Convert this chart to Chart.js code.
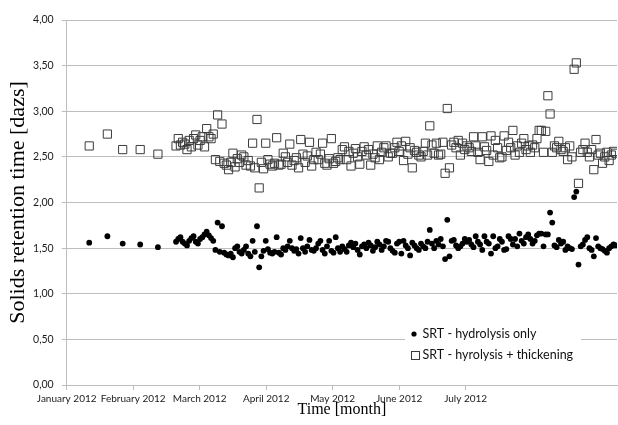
<!DOCTYPE html>
<html><head><meta charset="utf-8">
<script src="https://cdn.jsdelivr.net/npm/chart.js@4/dist/chart.umd.min.js"></script>
<style>html,body{margin:0;padding:0;background:#fff}canvas{display:block}</style>
</head><body>
<canvas id="c" width="618" height="425"></canvas>
<script>
const monthLabels = ['January 2012','February 2012','March 2012','April 2012','May 2012','June 2012','July 2012'];
const monthTickDays = [0, 30.4, 60.8, 91.2, 121.6, 152.0, 182.4];
const yTickValues = [0, 0.5, 1, 1.5, 2, 2.5, 3, 3.5, 4];
const yTickLabels = ['0,00','0,50','1,00','1,50','2,00','2,50','3,00','3,50','4,00'];
const seriesNames = ['SRT - hydrolysis only', 'SRT - hyrolysis + thickening'];

// weekly samples in January / early February (day since 1 Jan 2012)
const earlyDays = [10.3, 18.6, 25.6, 33.6, 41.7];
const earlyHydrolysis = [1.56, 1.63, 1.55, 1.54, 1.51];
const earlyThickening = [2.62, 2.75, 2.58, 2.58, 2.53];

// daily samples from day 50 to day 251
const dailyFirstDay = 50;
const dailyHydrolysis = [
 1.57,1.60,1.62,1.57,1.55,1.53,1.58,1.61,1.63,1.57,1.55,1.60,1.62,1.65,1.68,1.64,1.61,1.58,1.48,1.78,1.46,1.74,1.45,1.43,1.42,1.44,1.40,1.50,1.52,1.46,1.44,
 1.48,1.52,1.44,1.41,1.58,1.46,1.74,1.29,1.41,1.47,1.58,1.49,1.45,1.44,1.46,1.62,1.45,1.43,1.50,1.48,1.52,1.58,1.50,1.47,1.49,1.44,1.61,1.50,1.46,1.52,1.59,1.48,1.47,1.50,
 1.55,1.58,1.48,1.44,1.52,1.58,1.47,1.45,1.62,1.50,1.46,1.52,1.49,1.46,1.53,1.56,1.51,1.55,1.48,1.43,1.52,1.54,1.50,1.56,1.53,1.47,1.51,1.57,1.54,1.48,1.52,1.58,1.57,1.50,
 1.47,1.45,1.55,1.57,1.44,1.58,1.53,1.50,1.42,1.56,1.53,1.50,1.48,1.55,1.52,1.50,1.57,1.70,1.55,1.50,1.58,1.54,1.60,1.52,1.38,1.81,1.41,1.58,1.59,1.53,1.50,1.52,1.55,1.60,1.57,
 1.59,1.54,1.51,1.63,1.57,1.54,1.48,1.63,1.57,1.55,1.44,1.63,1.50,1.52,1.60,1.57,1.48,1.49,1.63,1.60,1.54,1.60,1.52,1.66,1.58,1.55,1.62,1.65,1.60,1.55,1.58,1.64,1.66,1.66,
 1.52,1.65,1.65,1.89,1.78,1.53,1.51,1.59,1.55,1.57,1.48,1.52,1.50,1.49,2.06,2.12,1.32,1.52,1.54,1.59,1.62,1.50,1.48,1.41,1.61,1.52,1.50,1.49,1.47,1.45,1.50,1.52,1.54,1.53
];
const dailyThickening = [
 2.62,2.70,2.63,2.66,2.64,2.58,2.68,2.61,2.70,2.74,2.63,2.68,2.72,2.61,2.81,2.72,2.70,2.75,2.47,2.96,2.45,2.86,2.43,2.41,2.36,2.44,2.54,2.39,2.48,2.44,2.52,
 2.50,2.41,2.46,2.40,2.65,2.38,2.91,2.16,2.44,2.37,2.65,2.47,2.42,2.40,2.43,2.71,2.41,2.42,2.54,2.50,2.44,2.64,2.41,2.46,2.49,2.38,2.69,2.53,2.44,2.51,2.66,2.40,2.47,2.55,
 2.47,2.53,2.65,2.43,2.41,2.48,2.70,2.43,2.45,2.49,2.47,2.58,2.61,2.47,2.56,2.40,2.54,2.59,2.50,2.42,2.56,2.61,2.52,2.58,2.41,2.53,2.49,2.62,2.47,2.55,2.60,2.62,2.50,2.54,
 2.54,2.60,2.66,2.56,2.62,2.46,2.67,2.53,2.60,2.38,2.57,2.55,2.52,2.50,2.56,2.65,2.52,2.84,2.63,2.54,2.65,2.52,2.53,2.66,2.32,3.03,2.38,2.63,2.66,2.60,2.68,2.52,2.65,2.58,2.62,
 2.60,2.56,2.72,2.62,2.55,2.47,2.72,2.61,2.57,2.45,2.73,2.52,2.68,2.60,2.49,2.50,2.73,2.57,2.66,2.60,2.79,2.52,2.62,2.55,2.65,2.70,2.58,2.62,2.55,2.63,2.60,2.70,2.79,2.79,
 2.55,2.78,3.17,2.97,2.55,2.62,2.60,2.67,2.58,2.56,2.60,2.47,2.62,2.50,3.46,3.53,2.21,2.55,2.58,2.65,2.55,2.50,2.58,2.36,2.69,2.52,2.54,2.43,2.50,2.55,2.46,2.52,2.56,2.54
];

function toPoints(days, vals) { return days.map((d, i) => ({ x: d, y: vals[i] })); }
const dailyDays = dailyHydrolysis.map((_, i) => dailyFirstDay + i);
const hydPts = toPoints(earlyDays, earlyHydrolysis).concat(toPoints(dailyDays, dailyHydrolysis));
const thkPts = toPoints(earlyDays, earlyThickening).concat(toPoints(dailyDays, dailyThickening));

const GRID = '#bdbdbd';
const TICKFONT = { family: 'Lato', size: 10 };

const legendPlugin = {
  id: 'insideLegend',
  afterDraw(chart) {
    const { ctx, chartArea: a } = chart;
    const ds = chart.data.datasets;
    const bx = a.right - 212, by = a.bottom - 60;
    ctx.save();
    ctx.fillStyle = '#fff';
    ctx.fillRect(bx, by, 176, 40);
    ctx.font = '12.5px Lato';
    ctx.textBaseline = 'middle';
    // item 1: filled dot
    ctx.beginPath();
    ctx.arc(bx + 9, by + 9, 2.6, 0, Math.PI * 2);
    ctx.fillStyle = ds[0].backgroundColor;
    ctx.fill();
    ctx.fillStyle = '#111';
    ctx.fillText(ds[0].label, bx + 17.5, by + 8.5);
    // item 2: hollow square
    ctx.strokeStyle = ds[1].borderColor;
    ctx.lineWidth = 1;
    ctx.strokeRect(bx + 6.5, by + 26.5, 8, 8);
    ctx.fillText(ds[1].label, bx + 17.5, by + 30);
    ctx.restore();
  }
};

new Chart(document.getElementById('c'), {
  type: 'scatter',
  data: {
    datasets: [
      { label: seriesNames[0], data: hydPts, pointStyle: 'circle', pointRadius: 2.9, pointHoverRadius: 2.9,
        backgroundColor: '#000', borderColor: '#000', borderWidth: 0 },
      { label: seriesNames[1], data: thkPts, pointStyle: 'rect', pointRadius: 5.8, pointHoverRadius: 5.8,
        backgroundColor: 'rgba(0,0,0,0)', borderColor: '#3c3c3c', borderWidth: 1 }
    ]
  },
  options: {
    responsive: false,
    animation: false,
    devicePixelRatio: 1,
    layout: { autoPadding: false, padding: { top: 20, right: 1, left: 0, bottom: 0 } },
    plugins: { legend: { display: false }, tooltip: { enabled: false } },
    scales: {
      x: {
        type: 'linear', min: 0, max: 251.6,
        afterBuildTicks(scale) { scale.ticks = monthTickDays.map(v => ({ value: v })); },
        afterFit(scale) { scale.height = 40; scale.paddingRight = 0; scale.paddingLeft = 0; },
        ticks: { autoSkip: false, maxRotation: 0, minRotation: 0, padding: 3, color: '#1a1a1a', font: TICKFONT,
          callback: (v, i) => monthLabels[i] },
        grid: { drawOnChartArea: false, drawTicks: true, tickLength: 5, color: GRID },
        border: { color: GRID, width: 1 },
        title: { display: true, text: 'Time [month]', color: '#000',
          font: { family: 'Liberation Serif', size: 16 }, padding: { top: 0, bottom: 6 } }
      },
      y: {
        min: 0, max: 4,
        afterBuildTicks(scale) { scale.ticks = yTickValues.map(v => ({ value: v })); },
        afterFit(scale) { scale.width = 66.7; },
        ticks: { padding: 8, color: '#1a1a1a', font: { family: 'Lato', size: 10.5 }, callback: (v, i) => yTickLabels[i] },
        grid: { drawOnChartArea: true, drawTicks: true, tickLength: 5, color: GRID },
        border: { color: GRID, width: 1 },
        title: { display: true, text: 'Solids retention time [dazs]', color: '#000',
          font: { family: 'Liberation Serif', size: 22 }, padding: { top: 5, bottom: 0 } }
      }
    }
  },
  plugins: [legendPlugin]
});
</script>
</body></html>
